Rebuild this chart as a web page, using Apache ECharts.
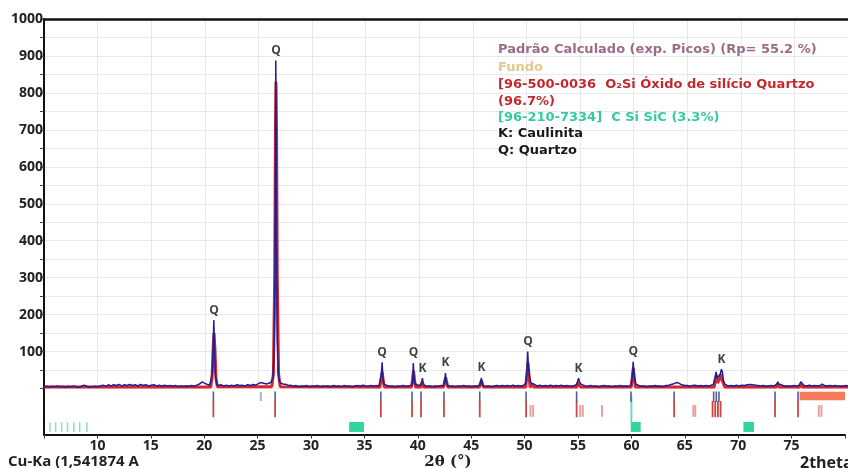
<!DOCTYPE html>
<html><head><meta charset="utf-8">
<script src="https://cdn.jsdelivr.net/npm/echarts@6/dist/echarts.min.js"></script>
<style>html,body{margin:0;padding:0;background:#fff}#c{width:848px;height:468px}</style>
</head><body><div id="c"></div>
<script>
// ---- Data ----
const xTicks = [10,15,20,25,30,35,40,45,50,55,60,65,70,75];
const yTickLabels = [100,200,300,400,500,600,700,800,900,1000];

// Observed pattern (2theta, counts)
const obsData = [
[5.0,5],[5.25,6],[5.5,4],[5.75,6],[6.0,5],[6.25,7],[6.5,5],[6.75,6],[7.0,4],[7.25,6],[7.5,5],[7.75,7],[8.0,5],[8.25,3],[8.5,6],[8.75,9],[9.0,6],[9.25,4],[9.5,5],[9.75,6],
[10.0,5],[10.25,7],[10.5,9],[10.75,6],[11.0,10],[11.25,7],[11.5,10],[11.75,8],[12.0,11],[12.25,7],[12.5,10],[12.75,8],[13.0,11],[13.25,8],[13.5,10],[13.75,7],[14.0,11],[14.25,8],[14.5,10],[14.75,7],
[15.0,9],[15.25,10],[15.5,7],[15.75,9],[16.0,6],[16.25,9],[16.5,7],[16.75,8],[17.0,6],[17.25,8],[17.5,5],[17.75,7],[18.0,6],[18.25,7],[18.5,6],[18.75,8],[19.0,7],[19.25,9],[19.5,12],[19.75,18],
[20.0,14],[20.25,11],[20.45,9],[20.6,14],[20.7,40],[20.78,110],[20.84,185],[20.9,120],[20.98,40],[21.1,12],[21.3,8],[21.5,10],[21.75,7],[22.0,9],[22.25,6],[22.5,9],[22.75,7],[23.0,10],[23.25,8],[23.5,9],[23.75,7],[24.0,10],[24.25,8],[24.5,11],[24.75,9],
[25.0,13],[25.2,16],[25.35,19],[25.5,14],[25.75,12],[26.0,14],[26.2,18],[26.35,30],[26.45,80],[26.52,220],[26.58,520],[26.62,888],[26.66,700],[26.7,380],[26.76,140],[26.85,45],[26.95,20],[27.1,14],[27.3,12],[27.45,16],[27.6,11],[27.8,8],
[28.0,9],[28.25,6],[28.5,8],[28.75,5],[29.0,7],[29.25,6],[29.5,8],[29.75,5],[30.0,7],[30.25,6],[30.5,8],[30.75,5],[31.0,7],[31.25,6],[31.5,7],[31.75,5],[32.0,8],[32.25,6],[32.5,7],[32.75,5],[33.0,8],[33.25,6],[33.5,7],[33.75,5],[34.0,7],[34.25,8],[34.5,6],[34.75,9],
[35.0,7],[35.25,6],[35.5,8],[35.75,6],[36.0,8],[36.25,7],[36.4,12],[36.48,40],[36.54,71],[36.6,35],[36.7,12],[36.85,7],[37.0,8],[37.25,6],[37.5,7],[37.75,5],[38.0,7],[38.25,6],[38.5,8],[38.75,6],[39.0,7],[39.25,8],[39.38,15],[39.45,69],[39.52,30],[39.62,12],[39.75,9],[39.95,8],
[40.15,10],[40.25,20],[40.3,28],[40.37,15],[40.5,8],[40.75,6],[41.0,7],[41.25,5],[41.5,7],[41.75,6],[42.0,8],[42.25,7],[42.38,20],[42.45,42],[42.52,18],[42.65,8],[42.9,6],[43.15,7],[43.4,5],[43.65,7],[43.9,6],[44.15,8],[44.4,6],[44.65,7],[44.9,5],
[45.15,7],[45.4,6],[45.65,9],[45.75,20],[45.8,29],[45.87,14],[46.0,7],[46.25,6],[46.5,7],[46.75,5],[47.0,7],[47.25,8],[47.5,6],[47.75,8],[48.0,7],[48.25,8],[48.5,6],[48.75,9],[49.0,7],[49.25,8],[49.5,6],[49.75,9],[49.95,14],
[50.05,45],[50.12,100],[50.2,55],[50.3,30],[50.45,14],[50.6,18],[50.7,12],[50.85,9],[51.0,7],[51.25,9],[51.5,6],[51.75,8],[52.0,7],[52.25,9],[52.5,6],[52.75,8],[53.0,7],[53.25,9],[53.5,6],[53.75,8],[54.0,7],[54.25,6],[54.5,8],[54.7,12],[54.8,22],[54.87,28],[54.95,18],
[55.1,12],[55.3,9],[55.5,7],[55.75,6],[56.0,8],[56.25,6],[56.5,7],[56.75,5],[57.0,7],[57.25,8],[57.5,6],[57.75,7],[58.0,5],[58.25,7],[58.5,6],[58.75,8],[59.0,6],[59.25,7],[59.5,6],[59.75,9],[59.88,30],[59.96,72],
[60.02,50],[60.1,25],[60.2,12],[60.35,8],[60.5,8],[60.75,6],[61.0,7],[61.25,5],[61.5,7],[61.75,6],[62.0,8],[62.25,6],[62.5,7],[62.75,5],[63.0,8],[63.25,8],[63.5,11],[63.75,13],[64.0,16],[64.25,14],[64.5,10],[64.75,8],
[65.0,8],[65.25,6],[65.5,8],[65.75,9],[66.0,7],[66.25,8],[66.5,6],[66.75,8],[67.0,7],[67.25,9],[67.45,12],[67.6,30],[67.7,45],[67.8,28],[67.95,25],[68.1,40],[68.18,52],[68.28,45],[68.38,22],[68.5,12],[68.7,9],[68.9,7],
[69.1,8],[69.35,7],[69.6,9],[69.85,7],[70.1,9],[70.35,8],[70.6,10],[70.85,11],[71.1,10],[71.35,9],[71.6,8],[71.85,7],[72.1,8],[72.35,6],[72.6,7],[72.85,8],[73.1,7],[73.35,12],[73.45,18],[73.55,12],[73.7,7],[73.95,8],
[74.2,6],[74.45,7],[74.7,6],[74.95,8],[75.2,7],[75.45,9],[75.6,18],[75.72,13],[75.9,8],[76.15,7],[76.4,9],[76.65,7],[76.9,8],[77.15,7],[77.4,8],[77.6,12],[77.8,8],[78.05,7],[78.3,8],[78.55,7],[78.8,8],[79.05,7],[79.3,6],[79.55,7],[79.8,8],[80.0,7]
];

// Calculated pattern (2theta, counts)
const calcData = [
[5,4],[20.55,4],[20.68,30],[20.78,110],[20.86,150],[20.94,110],[21.04,30],[21.17,5],
[26.25,5],[26.4,40],[26.52,300],[26.59,700],[26.64,830],[26.69,700],[26.76,300],[26.88,40],[27.03,5],
[36.34,4],[36.45,25],[36.54,45],[36.63,25],[36.74,4],
[39.28,4],[39.38,25],[39.47,48],[39.56,25],[39.66,4],
[40.14,4],[40.24,15],[40.32,20],[40.42,4],
[42.28,4],[42.38,20],[42.47,30],[42.56,18],[42.66,4],
[45.62,4],[45.72,15],[45.81,22],[45.9,12],[46.0,4],
[49.94,4],[50.05,40],[50.14,70],[50.23,40],[50.34,4],[50.5,4],[50.6,10],[50.7,4],
[54.7,4],[54.8,15],[54.88,20],[54.96,12],[55.06,4],
[59.78,4],[59.89,35],[59.97,55],[60.06,30],[60.17,4],
[63.9,4],[64.0,9],[64.1,4],
[67.52,4],[67.63,25],[67.72,35],[67.82,15],[67.95,10],[68.06,28],[68.14,38],[68.22,25],[68.29,30],[68.37,20],[68.5,4],
[73.32,4],[73.45,12],[73.58,4],[75.5,4],[75.62,12],[75.74,4],[80,4]
];

// Peak annotations
const peakLabelPos  = [20.86, 26.64, 36.54, 39.46, 40.3, 42.45, 45.8, 50.14, 54.87, 59.96, 68.2];
const peakLabelTop  = [185, 888, 71, 69, 28, 42, 29, 100, 28, 72, 52];
const peakLabelText = ['Q','Q','Q','Q','K','K','K','Q','K','Q','K'];

// Reference line positions (2theta)
const obsTickPos   = [20.86, 26.64, 36.54, 39.46, 40.3, 42.45, 45.8, 50.14, 54.87, 59.96, 64.0, 67.7, 67.95, 68.2, 73.45, 75.6];
const weakTickPos  = [25.3];
const qzTickPos    = [20.86, 26.64, 36.54, 39.46, 40.3, 42.45, 45.8, 50.14, 54.87, 64.0, 67.6, 67.85, 68.1, 68.35, 73.45, 75.6];
const qzMinorPos   = [50.55, 50.8, 55.2, 55.45, 57.25, 65.8, 65.98, 77.55, 77.8];
const sicTickPos   = [5.56, 6.09, 6.65, 7.2, 7.79, 8.34, 9.02];
const sicLinePos   = [60.0];
const sicBlocks    = [[33.57,34.96],[59.94,60.87],[70.49,71.48]];
const bgBlocks     = [[75.75,80]];

const legendLines = [
  {text:'Padrão Calculado (exp. Picos) (Rp= 55.2 %)', color:'#9d6a88'},
  {text:'Fundo', color:'#e3c78d'},
  {text:'[96-500-0036  O₂Si Óxido de silício Quartzo', color:'#c4282e'},
  {text:'(96.7%)', color:'#c4282e'},
  {text:'[96-210-7334]  C Si SiC (3.3%)', color:'#36c9a2'},
  {text:'K: Caulinita', color:'#1a1a1a'},
  {text:'Q: Quartzo', color:'#1a1a1a'}
];

// ---- Chart ----
const FONT = "'Open Sans', 'DejaVu Sans', sans-serif";
const LFONT = "'DejaVu Sans', sans-serif";
function tickSeries(positions, y0, y1, color, width){
  return {type:'custom', xAxisIndex:1, yAxisIndex:1, silent:true, z:4,
    data: positions.map(p=>[p]), encode:{x:0},
    renderItem:(params, api)=>{
      const a = api.coord([api.value(0), y0]);
      const b = api.coord([api.value(0), y1]);
      return {type:'line', shape:{x1:a[0],y1:a[1],x2:b[0],y2:b[1]}, style:{stroke:color, lineWidth:width}};
    }};
}
function blockSeries(ranges, y0, y1, color){
  return {type:'custom', xAxisIndex:1, yAxisIndex:1, silent:true, z:3,
    data: ranges, encode:{x:[0,1]},
    renderItem:(params, api)=>{
      const a = api.coord([api.value(0), y0]);
      const b = api.coord([api.value(1), y1]);
      return {type:'rect', shape:{x:a[0], y:Math.min(a[1],b[1]), width:b[0]-a[0], height:Math.abs(b[1]-a[1])}, style:{fill:color}};
    }};
}

const chart = echarts.init(document.getElementById('c'), null, {renderer:'canvas'});
const labelFmt = v => (yTickLabels.indexOf(v) >= 0 ? String(v) : '');
const option = {
  animation:false,
  backgroundColor:'#fff',
  grid:[
    {left:44, top:19, width:806, height:369.5},
    {left:44, top:388.5, width:806, height:46}
  ],
  xAxis:[
    {gridIndex:0, type:'value', min:5, max:80, interval:5,
     axisLine:{show:false}, axisTick:{show:false}, axisLabel:{show:false},
     splitLine:{show:true, lineStyle:{color:'#e8e8e8', width:1}}},
    {gridIndex:1, type:'value', min:5, max:80, interval:5,
     axisLine:{show:true, onZero:false, lineStyle:{color:'#111', width:2}},
     axisTick:{show:true, length:4, lineStyle:{color:'#333'}},
     axisLabel:{formatter: v => (xTicks.indexOf(v) >= 0 ? String(v) : ''), color:'#222', fontFamily:FONT, fontWeight:'bold', fontSize:14, margin:5},
     splitLine:{show:false}},
    {gridIndex:0, type:'value', position:'top', min:5, max:80,
     axisLine:{show:true, onZero:false, lineStyle:{color:'#111', width:2.5}},
     axisTick:{show:false}, axisLabel:{show:false}, splitLine:{show:false}}
  ],
  yAxis:[
    {gridIndex:0, type:'value', min:0, max:1000, interval:50,
     axisLine:{show:true, onZero:false, lineStyle:{color:'#111', width:2}},
     axisTick:{show:true, length:4, lineStyle:{color:'#444'}},
     axisLabel:{formatter:labelFmt, color:'#222', fontFamily:FONT, fontWeight:'bold', fontSize:14, margin:1},
     splitLine:{show:true, lineStyle:{color:'#e8e8e8', width:1}}},
    {gridIndex:1, type:'value', min:-125, max:0,
     axisLine:{show:true, onZero:false, lineStyle:{color:'#111', width:2}},
     axisTick:{show:false}, axisLabel:{show:false}, splitLine:{show:false}}
  ],
  series:[
    {type:'line', name:'calc', xAxisIndex:0, yAxisIndex:0, data:calcData, symbol:'none', z:2,
     lineStyle:{color:'#d8262c', width:3}},
    {type:'line', name:'obs', xAxisIndex:0, yAxisIndex:0, data:obsData, symbol:'none', z:3,
     lineStyle:{color:'#1f1f92', width:1.5}},
    {type:'scatter', xAxisIndex:0, yAxisIndex:0, symbolSize:0, silent:true, z:5,
     data: peakLabelPos.map((p,i)=>[p, peakLabelTop[i]]),
     label:{show:true, position:'top', distance:4, formatter: p => peakLabelText[p.dataIndex],
            color:'#111', fontFamily:FONT, fontWeight:'bold', fontSize:12}},
    blockSeries(bgBlocks, -9, -32, '#f47a5a'),
    blockSeries(sicBlocks, -91, -118, '#2fd49e'),
    tickSeries(sicLinePos, -18, -92, '#72d6c6', 2),
    tickSeries(sicTickPos, -92, -118, '#8edcc8', 1.5),
    tickSeries(qzMinorPos, -45, -77, '#e8a1a1', 2),
    tickSeries(qzTickPos, -34, -78, '#cf4545', 1.8),
    tickSeries(obsTickPos, -8, -36, '#575b92', 1.6),
    tickSeries(weakTickPos, -10, -34, '#a9b1cd', 2)
  ],
  graphic:[
    {type:'text', x:8, y:462, z:100, style:{text:'Cu-Ka (1,541874 A', fill:'#222', font:"bold 15px "+FONT, verticalAlign:'middle'}},
    {type:'text', x:448, y:462, z:100, style:{text:'2θ (°)', fill:'#222', font:"bold 15px 'DejaVu Serif', serif", align:'center', verticalAlign:'middle'}},
    {type:'text', x:800, y:463, z:100, style:{text:'2theta', fill:'#222', font:"bold 16px "+FONT, verticalAlign:'middle'}}
  ].concat(legendLines.map((l,i)=>({type:'text', z:100, x:498, y:[50,67.5,85,101.5,117.5,134,150.5][i],
     style:{text:l.text, fill:l.color, font:"bold 13px "+LFONT, verticalAlign:'middle'}})))
};
chart.setOption(option);
</script>
</body></html>
